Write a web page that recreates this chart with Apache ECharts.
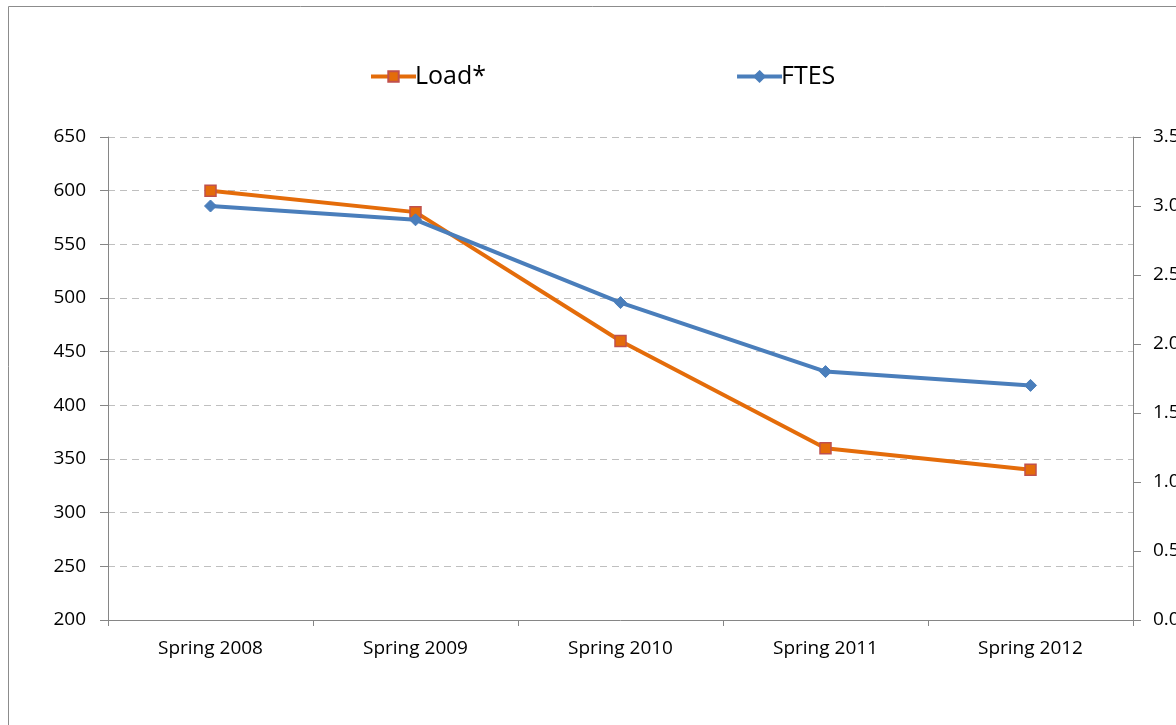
<!DOCTYPE html>
<html>
<head>
<meta charset="utf-8">
<script src="https://cdn.jsdelivr.net/npm/echarts@6/dist/echarts.min.js"></script>
<style>
html,body{margin:0;padding:0;background:#fff;}
#chart{width:1176px;height:725px;}
</style>
</head>
<body>
<div id="chart"></div>
<script>
const categories = ['Spring 2008','Spring 2009','Spring 2010','Spring 2011','Spring 2012'];
const loadValues = [600, 580, 460, 360, 340];
const ftesValues = [3.0, 2.9, 2.3, 1.8, 1.7];
const leftTicks = {min: 200, max: 650, interval: 50};
const rightTicks = {min: 0, max: 3.5, interval: 0.5};

const FONT = 'Open Sans';
const axisGray = '#868686';
const chart = echarts.init(document.getElementById('chart'));
chart.setOption({
  animation: false,
  backgroundColor: '#fff',
  graphic: [{
    type: 'rect', silent: true, z: -10,
    shape: {x: 8.5, y: 6.5, width: 1400, height: 1000},
    style: {fill: 'none', stroke: '#8c8c8c', lineWidth: 1}
  }],
  legend: {
    left: 364, top: 59,
    itemWidth: 45, itemHeight: 13, itemGap: 249,
    lineStyle: {width: 4},
    textStyle: {fontFamily: FONT, fontSize: 25, color: '#000', padding: [0,0,0,-6]},
    data: ['Load*', 'FTES']
  },
  grid: {left: 108, right: 43, top: 137, bottom: 105, containLabel: false, outerBoundsMode: 'none'},
  xAxis: {
    type: 'category', data: categories, boundaryGap: true,
    axisLine: {lineStyle: {color: axisGray, width: 1}},
    axisTick: {show: true, length: 6, alignWithLabel: false, lineStyle: {color: axisGray}},
    axisLabel: {fontFamily: FONT, fontSize: 19, color: '#000', margin: 19}
  },
  yAxis: [{
    type: 'value', position: 'left',
    min: leftTicks.min, max: leftTicks.max, interval: leftTicks.interval,
    axisLine: {show: true, lineStyle: {color: axisGray}},
    axisTick: {show: true, length: 8, lineStyle: {color: axisGray}},
    axisLabel: {fontFamily: FONT, fontSize: 19, color: '#000', margin: 22},
    splitLine: {show: true, lineStyle: {color: '#bfbfbf', type: [7, 5], width: 1}}
  }, {
    type: 'value', position: 'right',
    min: rightTicks.min, max: rightTicks.max, interval: rightTicks.interval,
    axisLine: {show: true, lineStyle: {color: axisGray}},
    axisTick: {show: true, length: 8, lineStyle: {color: axisGray}},
    axisLabel: {fontFamily: FONT, fontSize: 19, color: '#000', margin: 20,
      formatter: v => v.toFixed(1)},
    splitLine: {show: false}
  }],
  series: [{
    name: 'Load*', type: 'line', yAxisIndex: 0, data: loadValues,
    symbol: 'rect', symbolSize: 11,
    lineStyle: {color: '#E46C0A', width: 4},
    itemStyle: {color: '#E46C0A', borderColor: '#C0504D', borderWidth: 1.5},
    z: 2
  }, {
    name: 'FTES', type: 'line', yAxisIndex: 1, data: ftesValues,
    symbol: 'diamond', symbolSize: 12,
    lineStyle: {color: '#4A7EBB', width: 4},
    itemStyle: {color: '#4A7EBB', borderColor: '#4A7EBB', borderWidth: 1},
    z: 3
  }]
});
</script>
</body>
</html>
